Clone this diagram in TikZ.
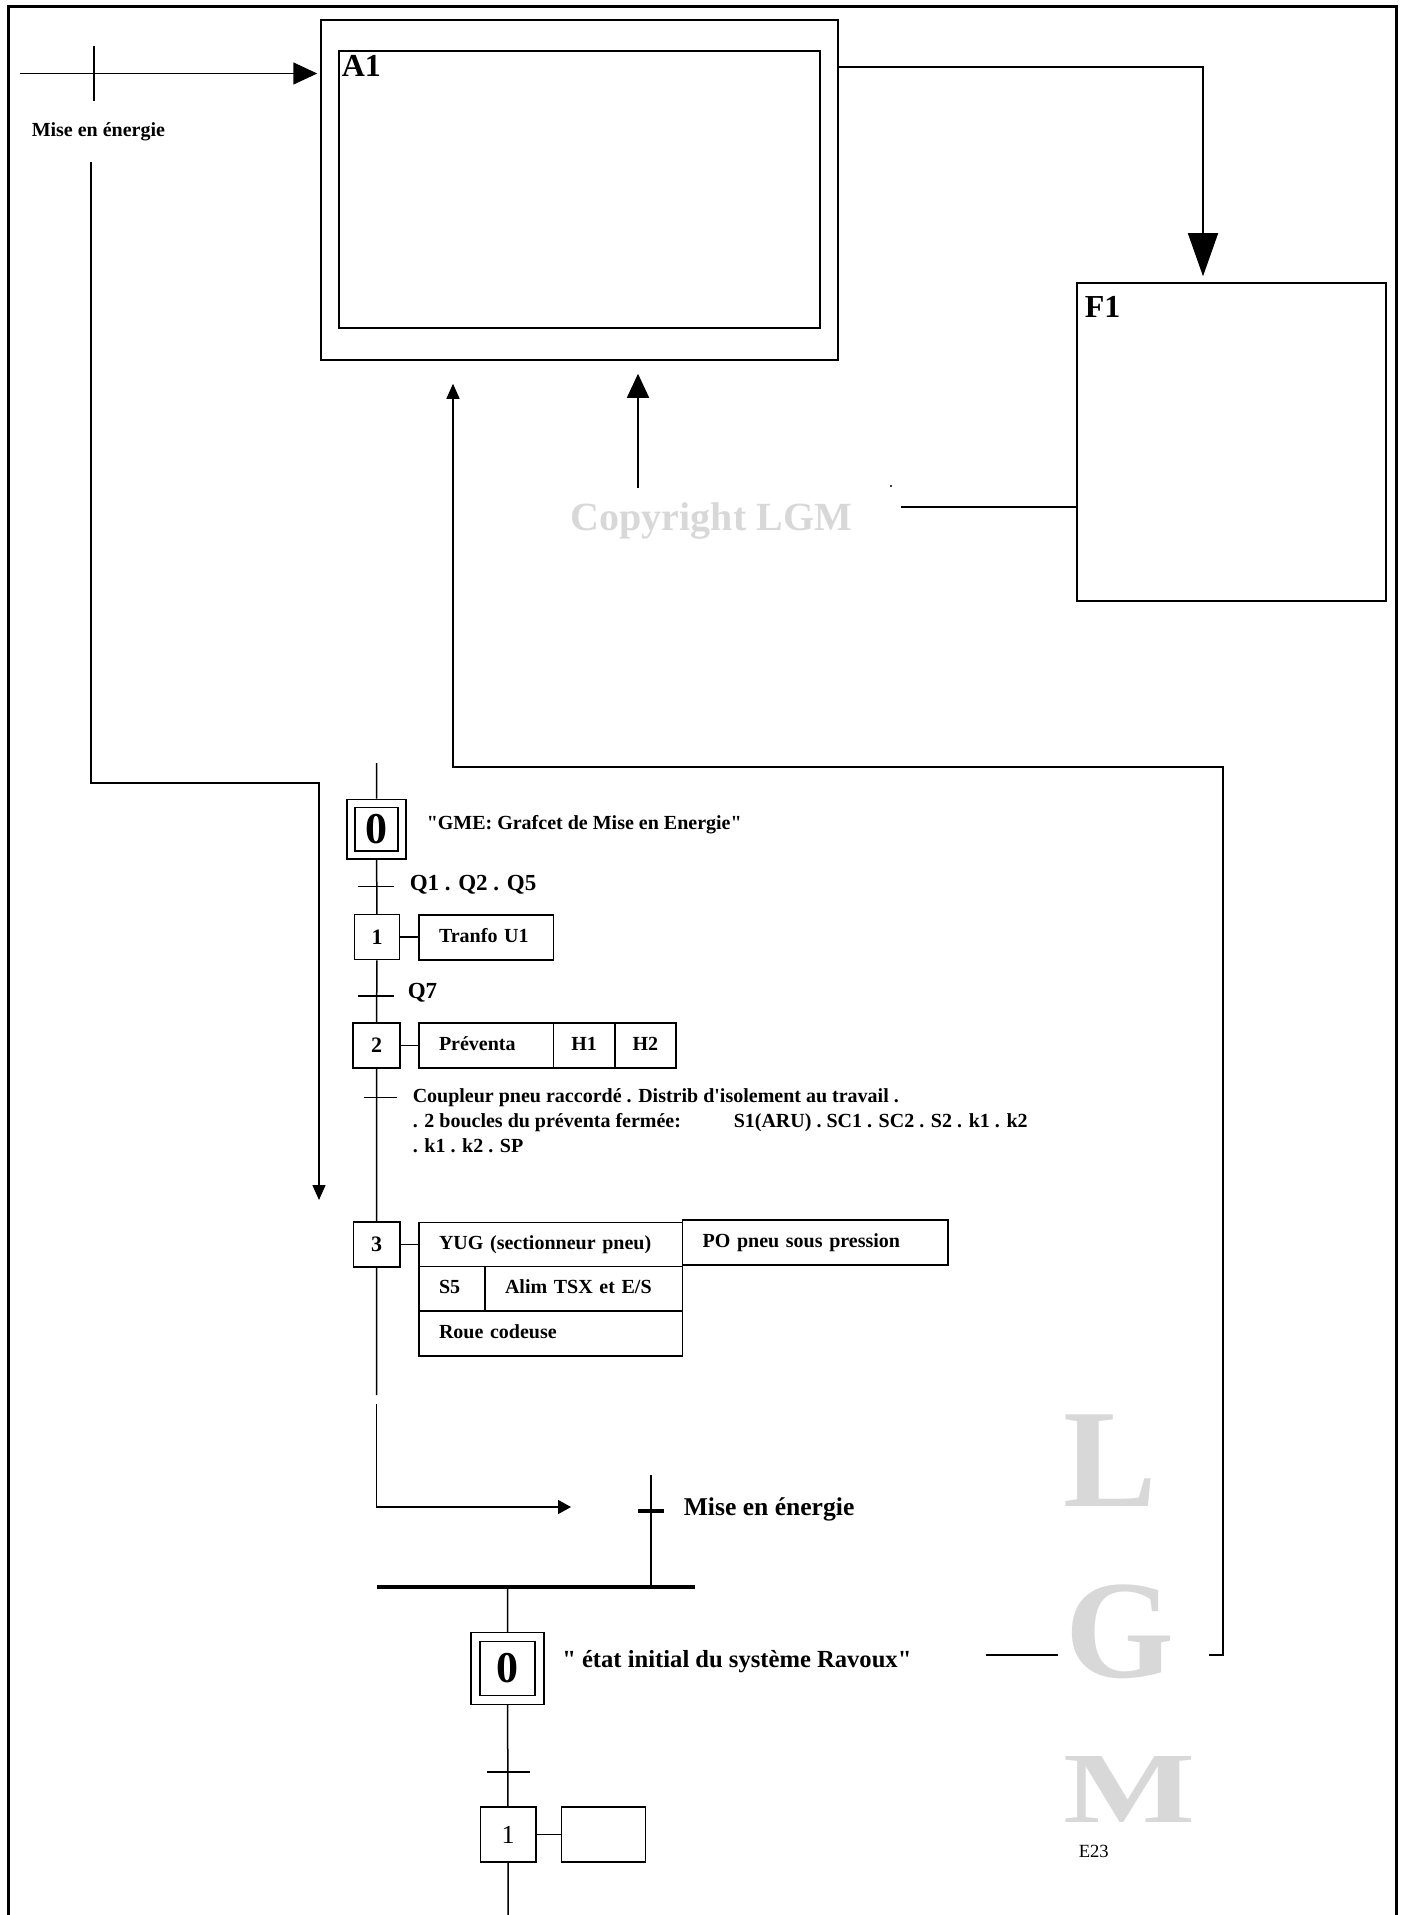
\documentclass[tikz,border=0pt]{standalone}
\usepackage{fontspec}
\setmainfont{Liberation Serif}[Ligatures=TeXOff]
\usetikzlibrary{arrows.meta}
\definecolor{gris}{RGB}{216,216,216}
\begin{document}
\begin{tikzpicture}[x=0.5pt,y=-0.5pt,line width=0.75pt,
  cadre/.style={line width=1.5pt},
  boite/.style={draw,inner sep=0pt},
  etape/.style={draw,inner sep=0pt,minimum width=22.5pt,minimum height=22.5pt,font=\bfseries\fontsize{11}{13}\selectfont},
  init/.style={draw,double,double distance=#1,outer sep=2.4pt,inner sep=0pt,font=\bfseries\fontsize{22}{24}\selectfont},
  action/.style={draw,anchor=north west,outer sep=0pt,inner xsep=10pt,inner ysep=0pt,minimum height=22.5pt,text width=#1,align=left,text height=7pt,text depth=2pt,font=\bfseries\fontsize{10}{12}\selectfont},
  texte/.style={anchor=base west,inner sep=0pt,font=\bfseries\fontsize{10}{12}\selectfont},
  recept/.style={anchor=base west,inner sep=0pt,font=\bfseries\fontsize{11.5}{13}\selectfont},
  filigrane/.style={anchor=base,inner sep=0pt,text=gris,font=\bfseries\fontsize{70}{70}\selectfont},
  grosse/.style={-{Triangle[length=21.5pt,width=15pt]}},
  moyenne/.style={-{Triangle[length=12pt,width=11pt]}},
  petite/.style={-{Triangle[length=7.5pt,width=6.5pt]}}]
\useasboundingbox (0,0) rectangle (1406,1915);
\draw[cadre] (8,1915) -- (8,6.5) -- (1396.5,6.5) -- (1396.5,1915);

\node[boite,minimum width=258.5pt,minimum height=170pt] (A1o) at (579.5,190) {};
\node[boite,minimum width=240.5pt,minimum height=138.5pt] (A1i) at (579.5,189.5) {};
\node[anchor=base west,inner sep=0pt,font=\bfseries\fontsize{16}{18}\selectfont] (lA1) at (341,77) {A1};
\node[boite,minimum width=154.5pt,minimum height=159pt] (F1) at (1231.5,442) {};
\node[anchor=base west,inner sep=0pt,font=\bfseries\fontsize{16}{18}\selectfont] (lF1) at (1084,318) {F1};

\coordinate (e0) at (20,73.5);
\draw[moyenne,shorten >=1.5pt] (e0) -- (e0 -| A1o.west);
\draw (94,46) -- (94,101);
\node[texte] (me1) at (31,137) {Mise en énergie};
\coordinate (me2) at (91,162);
\coordinate (me3) at (319,783);
\coordinate (gme) at (319,1200);
\draw[petite] (me2) |- (me3) -- (gme);

\coordinate (ha) at (1203,67);
\draw[grosse,shorten >=3pt] (A1o.east |- ha) -- (ha) -- (ha |- F1.north);

\node[anchor=base west,inner sep=0pt,text=gris,font=\bfseries\fontsize{20}{22}\selectfont] (copy) at (570,530) {Copyright LGM};
\fill (891,486) circle (0.6pt);
\coordinate (cf) at (901,507);
\draw (cf) -- (cf -| F1.west);
\coordinate (ca) at (638,488);
\draw[moyenne,shorten >=6.5pt] (ca) -- (ca |- A1o.south);

\coordinate (r1) at (986,1655);
\coordinate (r2) at (1058,1655);
\coordinate (r3) at (1209,1655);
\coordinate (r4) at (1223,767);
\coordinate (r5) at (453,767);
\draw (r1) -- (r2);
\draw[petite,shorten >=11.5pt] (r3) -| (r4) -- (r5) -- (r5 |- A1o.south);

\node[init=3.3pt,minimum width=25.5pt,minimum height=25.75pt] (s0) at (376.5,829.25) {0};
\node[texte] (cs0) at (426,829) {"GME: Grafcet de Mise en Energie"};
\node[etape] (s1) at (377,937) {1};
\node[etape,minimum width=23.5pt] (s2) at (376.5,1045.5) {2};
\node[etape,minimum width=23.25pt] (s3) at (376.5,1244.5) {3};
\node[action=47.25pt] (a1) at (419,915) {Tranfo U1};
\node[action=47.3pt] (pr) at (419,1023) {Préventa};
\node[action=30.6pt,inner xsep=0pt,align=center] (h1) at (553.6,1023) {H1};
\node[action=30.6pt,inner xsep=0pt,align=center] (h2) at (614.8,1023) {H2};
\node[action=111.8pt,minimum height=22pt] (yug) at (419,1222.5) {YUG (sectionneur pneu)};
\node[action=112.7pt] (po) at (682.6,1220) {PO pneu sous pression};
\node[action=13pt,minimum height=22.25pt] (s5) at (419,1266.5) {S5};
\node[action=78.8pt,minimum height=22.25pt] (alim) at (485,1266.5) {Alim TSX et E/S};
\node[action=111.8pt] (roue) at (419,1311) {Roue codeuse};

\coordinate (g0) at (376.5,763);
\coordinate (g4) at (376.5,1395);
\draw (g0) -- (s0) -- (s1) -- (s2) -- (s3) -- (g4);
\draw (s1.east) -- (s1.east -| a1.west);
\draw (s2.east) -- (s2.east -| pr.west);
\draw (s3.east) -- (s3.east -| yug.west);
\draw (358,886.5) -- (393.5,886.5);
\node[recept] (q1) at (409,890) {Q1 . Q2 . Q5};
\draw (358,996) -- (393.5,996);
\node[recept] (q2) at (407,998) {Q7};
\draw (364,1097.5) -- (397,1097.5);
\node[texte] (q3a) at (412,1102) {Coupleur pneu raccordé . Distrib d'isolement au travail .};
\node[texte] (q3b) at (412,1127) {. 2 boucles du préventa fermée:};
\node[texte] (q3c) at (733,1127) {S1(ARU) . SC1 . SC2 . S2 . k1 . k2};
\node[texte] (q3d) at (412,1152) {. k1 . k2 . SP};

\coordinate (g5) at (376.5,1404);
\coordinate (me4) at (571,1507);
\draw[-{Triangle[length=6.5pt,width=7pt]}] (g5) |- (me4);
\coordinate (t5) at (651,1475);
\draw (t5) -- (651,1587);
\draw[line width=2pt] (638,1511) -- (663.5,1511);
\node[anchor=base west,inner sep=0pt,font=\bfseries\fontsize{12.8}{15}\selectfont] (me5) at (683,1515) {Mise en énergie};
\draw[line width=2pt] (376.5,1587) -- (695,1587);

\node[init=3.6pt,minimum width=32pt,minimum height=31.5pt] (b0) at (507.5,1668.5) {0};
\node[anchor=base west,inner sep=0pt,font=\bfseries\fontsize{12.3}{14}\selectfont] (cb0) at (561.5,1667) {" état initial du système Ravoux"};
\node[draw,inner sep=0pt,minimum width=27.75pt,minimum height=27.5pt,font=\fontsize{13}{15}\selectfont] (b1) at (508,1834.5) {1};
\node[draw,anchor=north west,outer sep=0pt,minimum width=42pt,minimum height=27.5pt] (ab1) at (561.5,1807) {};
\coordinate (b2) at (507.5,1587);
\coordinate (b3) at (508,1915);
\draw (b2) -- (b0) -- (b1) -- (b3);
\draw (b1.east) -- (b1.east -| ab1.west);
\draw (487,1772) -- (529.6,1772);

\node[filigrane] (wL) at (1110,1506) {L};
\node[filigrane] (wG) at (1120,1677) {G};
\node[filigrane] (wM) at (1130,1822) {\scalebox{1}[0.72]{M}};
\node[anchor=base west,inner sep=0pt,font=\fontsize{9.3}{11}\selectfont] (e23) at (1078,1857) {E23};
\end{tikzpicture}
\end{document}
